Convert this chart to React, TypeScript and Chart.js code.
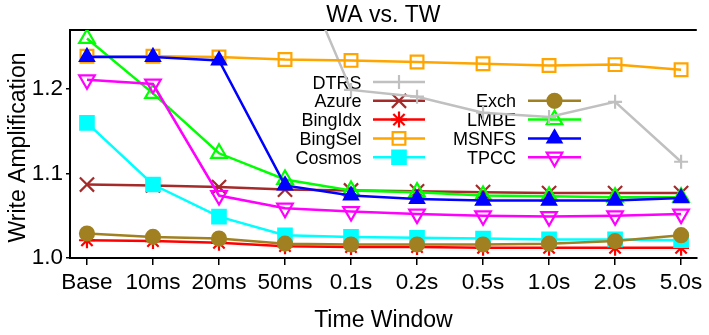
import React, { useEffect, useRef } from "react";
import { Chart, registerables } from "chart.js";

Chart.register(...registerables);

const categories = ["Base", "10ms", "20ms", "50ms", "0.1s", "0.2s", "0.5s", "1.0s", "2.0s", "5.0s"];
const yTickValues = [1.0, 1.1, 1.2];
const chartTitle = "WA vs. TW";
const xTitle = "Time Window";
const yTitle = "Write Amplification";

const dtrs = [1.52, 1.49, 1.46, 1.383, 1.199, 1.191, 1.172, 1.167, 1.185, 1.114];
const azure = [1.087, 1.086, 1.084, 1.081, 1.080, 1.079, 1.078, 1.077, 1.077, 1.077];
const bingIdx = [1.021, 1.020, 1.018, 1.014, 1.013, 1.013, 1.012, 1.012, 1.012, 1.012];
const bingSel = [1.239, 1.239, 1.238, 1.235, 1.234, 1.232, 1.230, 1.228, 1.229, 1.223];
const cosmos = [1.160, 1.087, 1.049, 1.027, 1.025, 1.024, 1.023, 1.022, 1.022, 1.021];
const exch = [1.029, 1.025, 1.023, 1.017, 1.016, 1.016, 1.016, 1.017, 1.020, 1.027];
const lmbe = [1.260, 1.195, 1.124, 1.093, 1.080, 1.078, 1.074, 1.073, 1.072, 1.072];
const msnfs = [1.238, 1.238, 1.234, 1.086, 1.074, 1.070, 1.068, 1.068, 1.068, 1.071];
const tpcc = [1.211, 1.206, 1.074, 1.059, 1.055, 1.052, 1.050, 1.049, 1.050, 1.052];

type Spec = {
  name: string;
  values: number[];
  color: string;
  style: string;
  r: number;
  filled: boolean;
  rot: number;
  col: number;
  row: number;
};

const specs: Spec[] = [
  { name: "DTRS", values: dtrs, color: "#c0c0c0", style: "cross", r: 7, filled: false, rot: 0, col: 0, row: 0 },
  { name: "Azure", values: azure, color: "#a52a2a", style: "crossRot", r: 10, filled: false, rot: 0, col: 0, row: 1 },
  { name: "BingIdx", values: bingIdx, color: "#ff0000", style: "star", r: 8, filled: false, rot: 0, col: 0, row: 2 },
  { name: "BingSel", values: bingSel, color: "#ffa500", style: "rect", r: 9, filled: false, rot: 0, col: 0, row: 3 },
  { name: "Cosmos", values: cosmos, color: "#00ffff", style: "rect", r: 9.5, filled: true, rot: 0, col: 0, row: 4 },
  { name: "Exch", values: exch, color: "#a08020", style: "circle", r: 7, filled: true, rot: 0, col: 1, row: 1 },
  { name: "LMBE", values: lmbe, color: "#00ff00", style: "triangle", r: 9, filled: false, rot: 0, col: 1, row: 2 },
  { name: "MSNFS", values: msnfs, color: "#0000ff", style: "triangle", r: 8, filled: true, rot: 0, col: 1, row: 3 },
  { name: "TPCC", values: tpcc, color: "#ff00ff", style: "triangle", r: 9, filled: false, rot: 180, col: 1, row: 4 },
];

const FONT = "'Liberation Sans', Arial, Helvetica, sans-serif";
const LINE_W = 2.5;
const MARK_W = 2.2;

function drawMarker(ctx: CanvasRenderingContext2D, s: Spec, x: number, y: number) {
  const r = s.r;
  ctx.save();
  ctx.strokeStyle = s.color;
  ctx.fillStyle = s.color;
  ctx.lineWidth = MARK_W;
  ctx.beginPath();
  if (s.style === "circle") {
    ctx.arc(x, y, r, 0, Math.PI * 2);
  } else if (s.style === "rect") {
    const h = Math.SQRT1_2 * r;
    ctx.rect(x - h, y - h, 2 * h, 2 * h);
  } else if (s.style === "triangle") {
    const a = (s.rot * Math.PI) / 180;
    for (let k = 0; k < 3; k++) {
      const ang = a + (k * 2 * Math.PI) / 3;
      const px = x + Math.sin(ang) * r;
      const py = y - Math.cos(ang) * r;
      if (k === 0) ctx.moveTo(px, py);
      else ctx.lineTo(px, py);
    }
    ctx.closePath();
  } else {
    if (s.style === "cross" || s.style === "star") {
      ctx.moveTo(x, y - r);
      ctx.lineTo(x, y + r);
      ctx.moveTo(x - r, y);
      ctx.lineTo(x + r, y);
    }
    if (s.style === "crossRot" || s.style === "star") {
      const o = Math.SQRT1_2 * r;
      ctx.moveTo(x - o, y - o);
      ctx.lineTo(x + o, y + o);
      ctx.moveTo(x + o, y - o);
      ctx.lineTo(x - o, y + o);
    }
  }
  if (s.filled) ctx.fill();
  ctx.stroke();
  ctx.restore();
}

const decor = {
  id: "decor",
  beforeDatasetsDraw(chart: any) {
    const ctx: CanvasRenderingContext2D = chart.ctx;
    const area = chart.chartArea;
    ctx.save();
    // top border
    ctx.strokeStyle = "#000";
    ctx.lineWidth = 2;
    ctx.beginPath();
    ctx.moveTo(area.left - 1, area.top);
    ctx.lineTo(area.right, area.top);
    ctx.stroke();

    // legend
    const textRight = [361.5, 516];
    const lineStart = [373, 528];
    const lineEnd = [425, 581];
    const rowY0 = 82;
    const rowStep = 18.8;
    ctx.font = `18px ${FONT}`;
    ctx.textAlign = "right";
    ctx.textBaseline = "alphabetic";
    specs.forEach((s) => {
      const y = rowY0 + s.row * rowStep;
      ctx.fillStyle = "#000";
      ctx.fillText(s.name, textRight[s.col], y + 6.5);
      ctx.strokeStyle = s.color;
      ctx.lineWidth = LINE_W;
      ctx.beginPath();
      ctx.moveTo(lineStart[s.col], y);
      ctx.lineTo(lineEnd[s.col], y);
      ctx.stroke();
      drawMarker(ctx, s, (lineStart[s.col] + lineEnd[s.col]) / 2, y);
    });
    ctx.restore();
  },
  afterDraw(chart: any) {
    const ctx: CanvasRenderingContext2D = chart.ctx;
    const area = chart.chartArea;
    const cx = (area.left + area.right) / 2;
    ctx.save();
    ctx.fillStyle = "#000";
    ctx.textAlign = "center";
    ctx.textBaseline = "alphabetic";
    ctx.font = `23px ${FONT}`;
    ctx.fillText(chartTitle, cx, 21.7);
    ctx.fillText(xTitle, cx, 326.5);
    ctx.translate(25, 147.5);
    ctx.rotate(-Math.PI / 2);
    ctx.fillText(yTitle, 0, 0);
    ctx.restore();
  },
};

export default function App() {
  const ref = useRef<HTMLCanvasElement>(null);
  useEffect(() => {
    const canvas = ref.current;
    if (!canvas) return;
    const datasets = specs.map((s, i) => ({
      label: s.name,
      data: s.values.map((v, j) => ({ x: j, y: v })),
      borderColor: s.color,
      backgroundColor: s.color,
      borderWidth: LINE_W,
      pointStyle: s.style,
      pointRotation: s.rot,
      pointRadius: s.r,
      pointHoverRadius: s.r,
      pointBorderColor: s.color,
      pointBackgroundColor: s.filled ? s.color : "rgba(0,0,0,0)",
      pointBorderWidth: MARK_W,
      order: specs.length - i,
      tension: 0,
      fill: false,
    }));
    const chart = new Chart(canvas, {
      type: "line",
      data: { datasets } as any,
      plugins: [decor],
      options: {
        animation: false,
        responsive: false,
        maintainAspectRatio: false,
        events: [],
        layout: { padding: { top: 30, left: 0, right: 0, bottom: 0 } },
        plugins: {
          legend: { display: false },
          title: { display: false },
          tooltip: { enabled: false },
        },
        scales: {
          x: {
            type: "linear",
            min: -0.257,
            max: 9.238,
            afterBuildTicks: (s: any) => {
              s.ticks = categories.map((_, i) => ({ value: i }));
            },
            afterFit: (s: any) => {
              s.height = 77;
              s.paddingLeft = 0;
              s.paddingRight = 0;
            },
            grid: {
              drawOnChartArea: false,
              drawTicks: true,
              tickLength: 7,
              color: "#000",
              lineWidth: 1.5,
            },
            border: { display: true, color: "#000", width: 2 },
            ticks: {
              color: "#000",
              font: { family: FONT, size: 22.5 },
              padding: 4,
              maxRotation: 0,
              autoSkip: false,
              callback: (v: any) => categories[Math.round(Number(v))] ?? "",
            },
          },
          y: {
            type: "linear",
            min: 1.0,
            max: 1.27,
            afterBuildTicks: (s: any) => {
              s.ticks = yTickValues.map((v) => ({ value: v }));
            },
            afterFit: (s: any) => {
              s.width = 70;
              s.paddingTop = 0;
              s.paddingBottom = 0;
            },
            grid: {
              drawOnChartArea: false,
              drawTicks: true,
              tickLength: 4,
              color: "#000",
              lineWidth: 1.5,
            },
            border: { display: true, color: "#000", width: 2 },
            ticks: {
              color: "#000",
              font: { family: FONT, size: 22.5 },
              padding: 3,
              callback: (v: any) => Number(v).toFixed(1),
            },
          },
        },
      } as any,
    });
    return () => chart.destroy();
  }, []);
  return (
    <div style={{ position: "absolute", left: 0, top: 0, width: 709, height: 335, background: "#fff" }}>
      <canvas ref={ref} width={709} height={335} style={{ display: "block", width: 709, height: 335 }} />
    </div>
  );
}
